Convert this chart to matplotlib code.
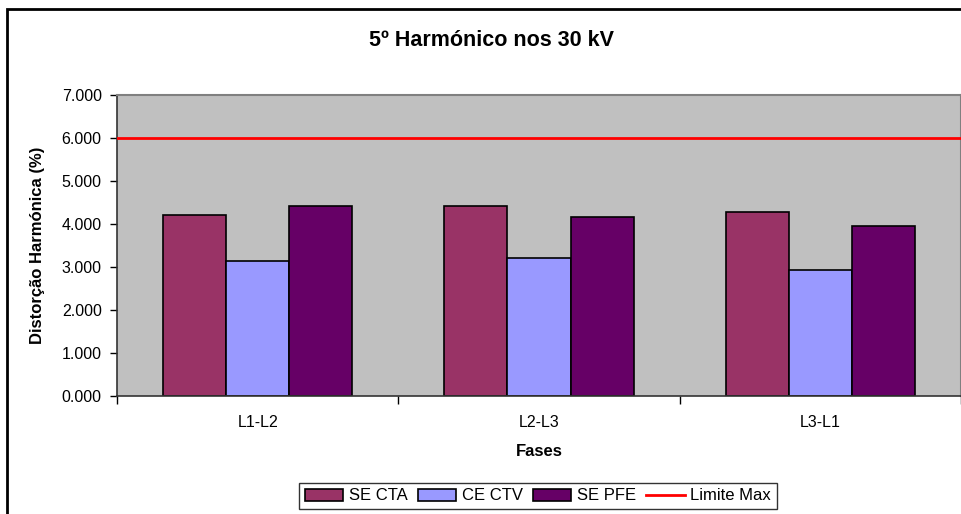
import matplotlib
matplotlib.use("Agg")
import matplotlib.pyplot as plt
from matplotlib.patches import Rectangle
from matplotlib.ticker import FixedLocator, FuncFormatter
import numpy as np

plt.rcParams['font.family'] = ['Liberation Sans', 'DejaVu Sans']

fases = ["L1-L2", "L2-L3", "L3-L1"]
se_cta = [4.22, 4.43, 4.28]
ce_ctv = [3.14, 3.20, 2.93]
se_pfe = [4.43, 4.16, 3.95]
limite = 6.0

series = [("SE CTA", se_cta, "#993366"),
          ("CE CTV", ce_ctv, "#9999FF"),
          ("SE PFE", se_pfe, "#660066")]

fig = plt.figure(figsize=(9.62, 5.14), dpi=100)
ax = fig.add_axes([117 / 962, 1 - 396 / 514, 844 / 962, 301 / 514])
ax.set_facecolor("#C0C0C0")

x = np.arange(len(fases))
w = 0.224
handles = []
for i, (name, vals, col) in enumerate(series):
    b = ax.bar(x + (i - 1) * w, vals, w, color=col, edgecolor="black", linewidth=1.2, label=name, zorder=2)
    handles.append(b)

ln = ax.axhline(limite, color="#FF0000", linewidth=2, label="Limite Max", zorder=3)
handles.append(ln)

ax.set_xlim(-0.5, len(fases) - 0.5)
ax.set_ylim(0, 7)
ax.set_yticks(np.arange(0, 8, 1))
ax.yaxis.set_major_formatter(FuncFormatter(lambda v, p: f"{v:.3f}"))
ax.set_xticks(x)
ax.set_xticklabels(fases)
ax.xaxis.set_minor_locator(FixedLocator(np.arange(-0.5, len(fases), 1)))
ax.tick_params(axis="x", which="major", length=0, pad=14, labelsize=11.5)
ax.tick_params(axis="x", which="minor", length=6, width=1, direction="out")
ax.tick_params(axis="y", length=5, width=1, direction="out", labelsize=11.5, pad=6)

for s in ["left", "bottom"]:
    ax.spines[s].set_color("#333333")
    ax.spines[s].set_linewidth(1.2)
for s in ["top", "right"]:
    ax.spines[s].set_color("#808080")
    ax.spines[s].set_linewidth(1.5)

ax.set_xlabel("Fases", fontsize=12, fontweight="bold", labelpad=10)
ax.set_ylabel("Distorção Harmónica (%)", fontsize=12, fontweight="bold", labelpad=12)
fig.text(492 / 962, 1 - 40 / 514, "5º Harmónico nos 30 kV", ha="center", va="center",
         fontsize=15.5, fontweight="bold")

leg = fig.legend(handles=handles, labels=[s[0] for s in series] + ["Limite Max"],
                 loc="center", bbox_to_anchor=(538 / 962, 1 - 496 / 514), ncol=4,
                 fontsize=12, frameon=True, fancybox=False, edgecolor="black",
                 handlelength=2.3, handletextpad=0.35, columnspacing=0.6,
                 borderpad=0.35)
leg.get_frame().set_linewidth(1.0)

fig.add_artist(Rectangle((7 / 962, -0.1), 1.2, 1 - 8.5 / 514 + 0.1, transform=fig.transFigure,
                         fill=False, edgecolor="black", linewidth=2))

fig.savefig("out.png", dpi=100)
